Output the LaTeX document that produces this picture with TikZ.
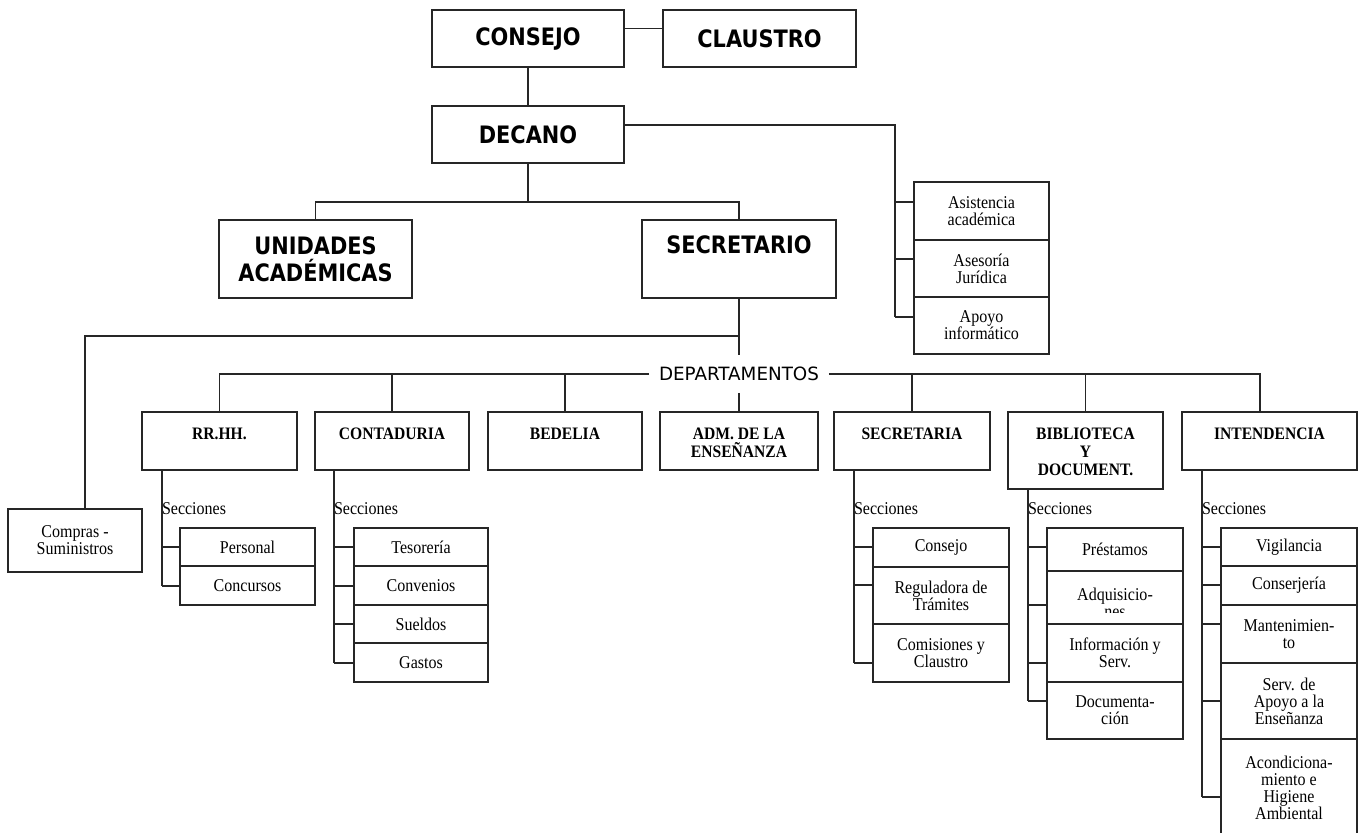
\documentclass[tikz,border=0pt]{standalone}
\usepackage{fontspec}
\setmainfont{Liberation Serif}[FakeStretch=0.89]
\newfontfamily\tah{DejaVu Sans}
\newfontfamily\tahb{DejaVu Sans Bold}[FakeStretch=0.87]
\newcommand{\Bx}[7]{\node[#1,minimum width={#5-#3},minimum height={#6-#4}] (#2) at ({(#3+#5)/2},{(#4+#6)/2}) {#7};}
\begin{document}
\begin{tikzpicture}[x=1pt,y=-1pt,
  every node/.style={inner sep=0pt, outer sep=0pt},
  ln/.style={line width=1.5pt, draw=black!85},
  box/.style={draw=black!85, line width=1.5pt},
  big/.style={box, font=\tahb\fontsize{24}{27}\selectfont, align=center},
  bigt/.style={font=\tahb\fontsize{24}{27}\selectfont, align=center},
  dtext/.style={font=\bfseries\fontsize{17.5}{18}\selectfont, align=center, anchor=north},
  sec/.style={box, font=\fontsize{18}{17}\selectfont, align=center},
  plain/.style={font=\fontsize{18}{17}\selectfont, align=center},
  lab/.style={font=\fontsize{18}{17}\selectfont, anchor=west},
]
\useasboundingbox (0,0) rectangle (1358,833);
\clip (0,0) rectangle (1358,833);

% top level
\Bx{big}{consejo}{432}{10}{624}{67}{CONSEJO}
\Bx{big}{claustro}{663}{10}{856}{67}{CLAUSTRO}
\Bx{big}{decano}{432}{106}{624}{163}{DECANO}
\Bx{big}{unidades}{219}{220}{412}{298}{UNIDADES\\ACADÉMICAS}
\Bx{box}{secretario}{642}{220}{836}{298}{}
\node[bigt] (secretario-t) at (739,245) {SECRETARIO};

% right staff boxes
\Bx{sec}{ra}{914}{182}{1049}{240}{Asistencia\\académica}
\Bx{sec}{rb}{914}{240}{1049}{297}{Asesoría\\Jurídica}
\Bx{sec}{rc}{914}{297}{1049}{354}{Apoyo\\informático}

% compras
\Bx{sec}{compras}{8}{509}{142}{572}{Compras -\\Suministros}

% departments
\node[font=\tah\fontsize{18.3}{20}\selectfont, inner xsep=10pt, inner ysep=12pt] (dept) at (739,374) {DEPARTAMENTOS};

\Bx{box}{rrhh}{142}{412}{297}{470}{}
\Bx{box}{cont}{315}{412}{469}{470}{}
\Bx{box}{bed}{488}{412}{642}{470}{}
\Bx{box}{adm}{660}{412}{818}{470}{}
\Bx{box}{secr}{834}{412}{990}{470}{}
\Bx{box}{bib}{1008}{412}{1163}{489}{}
\Bx{box}{int}{1182}{412}{1357}{470}{}
\node[dtext] (rrhh-t) at (219.5,428) {RR.HH.};
\node[dtext] (cont-t) at (392,428) {CONTADURIA};
\node[dtext] (bed-t) at (565,428) {BEDELIA};
\node[dtext] (adm-t) at (739,428) {ADM. DE LA\\ENSEÑANZA};
\node[dtext] (secr-t) at (912,428) {SECRETARIA};
\node[dtext] (bib-t) at (1085.5,428) {BIBLIOTECA\\Y\\DOCUMENT.};
\node[dtext] (int-t) at (1269.5,428) {INTENDENCIA};

% sections RRHH
\Bx{sec}{p1}{180}{528}{315}{566}{Personal}
\Bx{sec}{p2}{180}{566}{315}{605}{Concursos}
% Contaduria
\Bx{sec}{c1}{354}{528}{488}{566}{Tesorería}
\Bx{sec}{c2}{354}{566}{488}{605}{Convenios}
\Bx{sec}{c3}{354}{605}{488}{643}{Sueldos}
\Bx{sec}{c4}{354}{643}{488}{682}{Gastos}
% Secretaria
\Bx{sec}{s1}{873}{528}{1009}{567}{Consejo}
\Bx{sec}{s2}{873}{567}{1009}{624}{Reguladora de\\Trámites}
\Bx{sec}{s3}{873}{624}{1009}{682}{Comisiones y\\Claustro}
% Biblioteca
\Bx{sec}{b1}{1047}{528}{1183}{571}{Préstamos}
\Bx{sec}{b2}{1047}{571}{1183}{624}{}
\begin{scope}
  \clip (1047,571) rectangle (1183,612);
  \node[plain] (b2-t) at (1115,603) {Adquisicio-\\nes};
\end{scope}
\Bx{sec}{b3}{1047}{624}{1183}{682}{Información y\\Serv.}
\Bx{sec}{b4}{1047}{682}{1183}{739}{Documenta-\\ción}
% Intendencia
\Bx{sec}{i1}{1221}{528}{1357}{566}{Vigilancia}
\Bx{sec}{i2}{1221}{566}{1357}{605}{Conserjería}
\Bx{sec}{i3}{1221}{605}{1357}{663}{Mantenimien-\\to}
\Bx{sec}{i4}{1221}{663}{1357}{739}{Serv. de\\Apoyo a la\\Enseñanza}
\Bx{sec}{i5}{1221}{739}{1357}{837}{Acondiciona-\\miento e\\Higiene\\Ambiental}

% Secciones labels
\node[lab] (l1) at (162,509) {Secciones};
\node[lab] (l2) at (334,509) {Secciones};
\node[lab] (l3) at (854,509) {Secciones};
\node[lab] (l4) at (1028,509) {Secciones};
\node[lab] (l5) at (1202,509) {Secciones};

% connectors top
\draw[ln] ([yshift=10pt]consejo.east) -- ([yshift=10pt]claustro.west);
\draw[ln] (consejo.south) -- (decano.north);
\coordinate (rbus) at (895,317);
\draw[ln] ([yshift=9.5pt]decano.east) -| (rbus);
\draw[ln] (rbus |- 0,202) -- (ra.west |- 0,202);
\draw[ln] (rbus |- 0,259) -- (rb.west |- 0,259);
\draw[ln] (rbus) -- (rc.west |- rbus);
\coordinate (dbus) at (528,202);
\draw[ln] (decano.south) -- (dbus);
\draw[ln] (unidades.north) |- (dbus) -| (secretario.north);

% secretario to departments
\draw[ln] (secretario.south) -- (dept.north);
\draw[ln] (dept.south) -- (adm.north);
\draw[ln] (secretario.south |- 0,336) -| ([xshift=10pt]compras.north);
\draw[ln] (dept.west) -| (rrhh.north);
\draw[ln] (dept.east) -| ([xshift=-9.5pt]int.north);
\draw[ln] (cont.north) -- (cont.north |- dept.west);
\draw[ln] (bed.north) -- (bed.north |- dept.west);
\draw[ln] (secr.north) -- (secr.north |- dept.east);
\draw[ln] (bib.north) -- (bib.north |- dept.east);

% section buses
\coordinate (ra1) at (162,586);
\draw[ln] (ra1 |- rrhh.south) -- (ra1);
\draw[ln] (ra1 |- 0,547) -- (p1.west |- 0,547);
\draw[ln] (ra1) -- (p2.west |- ra1);

\coordinate (ca1) at (334,663);
\draw[ln] (ca1 |- cont.south) -- (ca1);
\draw[ln] (ca1 |- 0,547) -- (c1.west |- 0,547);
\draw[ln] (ca1 |- 0,586) -- (c2.west |- 0,586);
\draw[ln] (ca1 |- 0,624) -- (c3.west |- 0,624);
\draw[ln] (ca1) -- (c4.west |- ca1);

\coordinate (sa1) at (854,663);
\draw[ln] (sa1 |- secr.south) -- (sa1);
\draw[ln] (sa1 |- 0,547) -- (s1.west |- 0,547);
\draw[ln] (sa1 |- 0,585) -- (s2.west |- 0,585);
\draw[ln] (sa1) -- (s3.west |- sa1);

\coordinate (ba1) at (1028,701);
\draw[ln] (ba1 |- bib.south) -- (ba1);
\draw[ln] (ba1 |- 0,547) -- (b1.west |- 0,547);
\draw[ln] (ba1 |- 0,605) -- (b2.west |- 0,605);
\draw[ln] (ba1 |- 0,663) -- (b3.west |- 0,663);
\draw[ln] (ba1) -- (b4.west |- ba1);

\coordinate (ia1) at (1202,797);
\draw[ln] (ia1 |- int.south) -- (ia1);
\draw[ln] (ia1 |- 0,547) -- (i1.west |- 0,547);
\draw[ln] (ia1 |- 0,585) -- (i2.west |- 0,585);
\draw[ln] (ia1 |- 0,624) -- (i3.west |- 0,624);
\draw[ln] (ia1 |- 0,701) -- (i4.west |- 0,701);
\draw[ln] (ia1) -- (i5.west |- ia1);
\end{tikzpicture}
\end{document}
